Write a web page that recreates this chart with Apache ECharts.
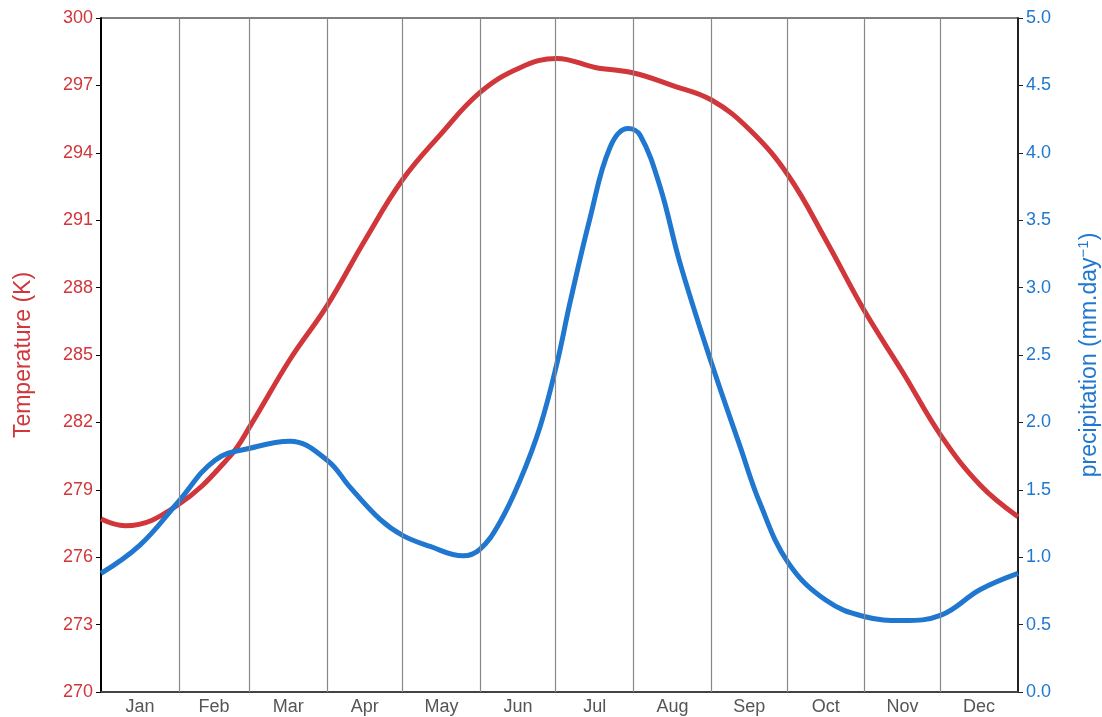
<!DOCTYPE html>
<html><head><meta charset="utf-8">
<script src="https://cdn.jsdelivr.net/npm/echarts@6/dist/echarts.min.js"></script>
<style>html,body{margin:0;padding:0;background:#fff}#c{width:1102px;height:717px}</style>
</head><body><div id="c"></div>
<script>
const monthNames = ['Jan','Feb','Mar','Apr','May','Jun','Jul','Aug','Sep','Oct','Nov','Dec'];
const monthStarts = [0,31,59,90,120,151,181,212,243,273,304,334,365];
const monthMids = [15.5,45,74.5,105,135.5,166,196.5,227.5,258,288.5,319,349.5];
const tempTicks = [270,273,276,279,282,285,288,291,294,297,300];
const precipTicks = [0,0.5,1,1.5,2,2.5,3,3.5,4,4.5,5];
const tempDays = [0,9.6,30.3,51.4,59.7,75.2,90,105,120,135,151,167,181.5,196.7,212,227.3,243,258.4,273.5,288.6,303.7,319.3,334.4,350,365];
const tempK = [277.7,277.4,278.3,280.5,281.9,284.8,287.2,290.1,292.8,294.8,296.7,297.8,298.2,297.8,297.55,297.0,296.35,295.0,293.0,290.1,287.0,284.2,281.4,279.2,277.8];
const precipDays = [0,15.5,30.3,45.4,59.7,75.2,90,99.1,111.1,120.2,131,144.1,150.9,158.8,166.8,174.8,181.5,186.7,194.7,202.6,209.8,214.6,222.5,230.5,243,254.4,262.3,273.5,288.6,303.7,319.3,334.4,350,365];
const precipMM = [0.88,1.09,1.40,1.72,1.81,1.86,1.72,1.52,1.28,1.16,1.08,1.01,1.06,1.26,1.57,1.97,2.44,2.89,3.52,4.04,4.18,4.13,3.75,3.18,2.44,1.82,1.40,0.96,0.68,0.56,0.53,0.57,0.76,0.88];

const RED = '#d0363a', BLUE = '#1f77d0';
const chart = echarts.init(document.getElementById('c'), null, {renderer:'canvas'});
chart.setOption({
  animation:false,
  grid:{left:101,right:84,top:18,bottom:25,show:true,borderColor:'#000',borderWidth:1,backgroundColor:'transparent',outerBoundsMode:'none',containLabel:false},
  xAxis:{type:'value',min:0,max:365,
    axisLine:{show:true,lineStyle:{color:'#444',width:2}},
    axisTick:{show:false},splitLine:{show:false},
    axisLabel:{customValues:monthMids,color:'#555',fontSize:18,fontFamily:'Liberation Sans',margin:6,
      formatter:function(v){const i=monthMids.indexOf(v);return i>=0?monthNames[i]:'';}}},
  yAxis:[
    {type:'value',min:tempTicks[0],max:tempTicks[tempTicks.length-1],interval:3,position:'left',
     name:'Temperature (K)',nameLocation:'middle',nameGap:66,
     nameTextStyle:{color:RED,fontSize:23,fontFamily:'Liberation Sans'},
     axisLine:{show:true,lineStyle:{color:'#000',width:2}},
     axisTick:{show:true,length:5,lineStyle:{color:'#000'}},
     axisLabel:{color:RED,fontSize:18,fontFamily:'Liberation Sans',margin:8},
     splitLine:{show:false}},
    {type:'value',min:precipTicks[0],max:precipTicks[precipTicks.length-1],interval:0.5,position:'right',
     name:'precipitation (mm.day{sup|\u22121})',nameLocation:'middle',nameGap:58,nameRotate:90,
     nameTextStyle:{color:BLUE,fontSize:23,fontFamily:'Liberation Sans',
       rich:{sup:{color:BLUE,fontSize:15,fontFamily:'Liberation Sans',padding:[0,0,12,0]}}},
     axisLine:{show:true,lineStyle:{color:'#222',width:2}},
     axisTick:{show:true,length:5,lineStyle:{color:'#222'}},
     axisLabel:{color:BLUE,fontSize:18,fontFamily:'Liberation Sans',margin:8,
       formatter:function(v){return v.toFixed(1);}},
     splitLine:{show:false}}
  ],
  series:[
    {type:'line',data:[],z:1,silent:true,
     markLine:{silent:true,symbol:['none','none'],label:{show:false},animation:false,
       lineStyle:{color:'#888',width:1.2,type:'solid'},
       data:monthStarts.slice(1,-1).map(d=>({xAxis:d}))}},
    {name:'Temperature',type:'line',yAxisIndex:0,smooth:0.4,showSymbol:false,z:3,
     lineStyle:{color:RED,width:5},itemStyle:{color:RED},
     data:tempDays.map((d,i)=>[d,tempK[i]])},
    {name:'Precipitation',type:'line',yAxisIndex:1,smooth:0.4,showSymbol:false,z:4,
     lineStyle:{color:BLUE,width:5},itemStyle:{color:BLUE},
     data:precipDays.map((d,i)=>[d,precipMM[i]])}
  ]
});
</script></body></html>
